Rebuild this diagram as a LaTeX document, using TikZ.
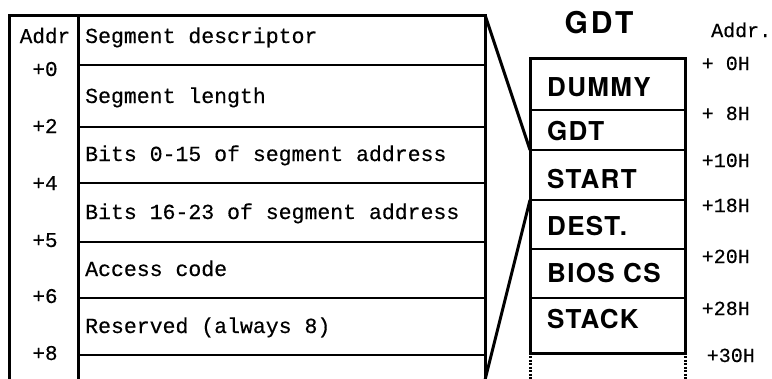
\documentclass[tikz,border=0pt]{standalone}
\usepackage{fontspec}
\setmonofont{Liberation Mono}[FakeBold=0.4]
\newfontfamily\herosent{TeX Gyre Heros}[LetterSpace=5]
\newfontfamily\heroshead{TeX Gyre Heros}[LetterSpace=10]
\begin{document}
\begin{tikzpicture}[x=1pt,y=-1pt,
  frame/.style={line width=3pt},
  sep/.style={line width=2.5pt},
  desc/.style={anchor=base west,inner sep=0pt,font=\ttfamily\fontsize{21.5}{24}\selectfont},
  addr/.style={anchor=base,inner sep=0pt,font=\ttfamily\fontsize{21}{24}\selectfont},
  ent/.style={anchor=base west,inner sep=0pt,font=\herosent\bfseries\fontsize{26}{30}\selectfont},
  head/.style={anchor=base,inner sep=0pt,font=\heroshead\bfseries\fontsize{30}{34}\selectfont},
  off/.style={anchor=base east,inner sep=0pt,font=\ttfamily\fontsize{20}{24}\selectfont},
  dots/.style={line width=3pt,dash pattern=on 2pt off 1.5pt},
]
\useasboundingbox (0,0) rectangle (772,378);
% left table
\coordinate (tl) at (9,15);
\coordinate (tm) at (78,15);
\coordinate (tr) at (485,15);
\coordinate (bl) at (9,380);
\coordinate (bm) at (78,380);
\coordinate (br) at (485,380);
\draw[frame] (bl) -- (tl) -- (tr) -- (br);
\draw[frame] (tm) -- (bm);
\foreach \y in {65,127,183,242,298,355}
  \draw[sep] (78,\y) -- (485,\y);
% left texts
\node[addr] (a0) at (45,43) {Addr};
\node[addr] (a1) at (45,76) {+0};
\node[addr] (a2) at (45,133) {+2};
\node[addr] (a3) at (45,190) {+4};
\node[addr] (a4) at (45,247) {+5};
\node[addr] (a5) at (45,303) {+6};
\node[addr] (a6) at (45,360) {+8};
\node[desc] (d0) at (85,43) {Segment descriptor};
\node[desc] (d1) at (85,103) {Segment length};
\node[desc] (d2) at (85,161) {Bits 0-15 of segment address};
\node[desc] (d3) at (85,219) {Bits 16-23 of segment address};
\node[desc] (d4) at (85,276) {Access code};
\node[desc] (d5) at (85,333) {Reserved (always 8)};
% GDT box
\coordinate (gtl) at (530,58);
\coordinate (gtr) at (685,58);
\coordinate (gbl) at (530,353);
\coordinate (gbr) at (685,353);
\coordinate (gs1) at (530,150);
\coordinate (gs2) at (530,200);
\draw[frame] (gtl) rectangle (gbr);
\foreach \y in {110,150,200,249,298}
  \draw[sep] (530,\y) -- (685,\y);
\draw[dots] (530,356) -- (530,380);
\draw[dots] (685,356) -- (685,380);
% zoom lines
\draw[frame] (tr) -- (gs1);
\draw[frame] (br) -- (gs2);
% GDT texts
\node[head] (gh) at (599,33) {GDT};
\node[ent] (e0) at (547,96) {DUMMY};
\node[ent] (e1) at (547,140) {GDT};
\node[ent] (e2) at (547,188) {START};
\node[ent] (e3) at (547,235) {DEST.};
\node[ent] (e4) at (547,282) {BIOS CS};
\node[ent] (e5) at (547,328) {STACK};
% offsets
\node[off,anchor=base west] (o) at (711,37) {Addr.};
\node[off] (o0) at (750,70) {+ 0H};
\node[off] (o1) at (750,120) {+ 8H};
\node[off] (o2) at (750,167) {+10H};
\node[off] (o3) at (750,212) {+18H};
\node[off] (o4) at (750,263) {+20H};
\node[off] (o5) at (750,315) {+28H};
\node[off] (o6) at (755,362) {+30H};
\end{tikzpicture}
\end{document}
